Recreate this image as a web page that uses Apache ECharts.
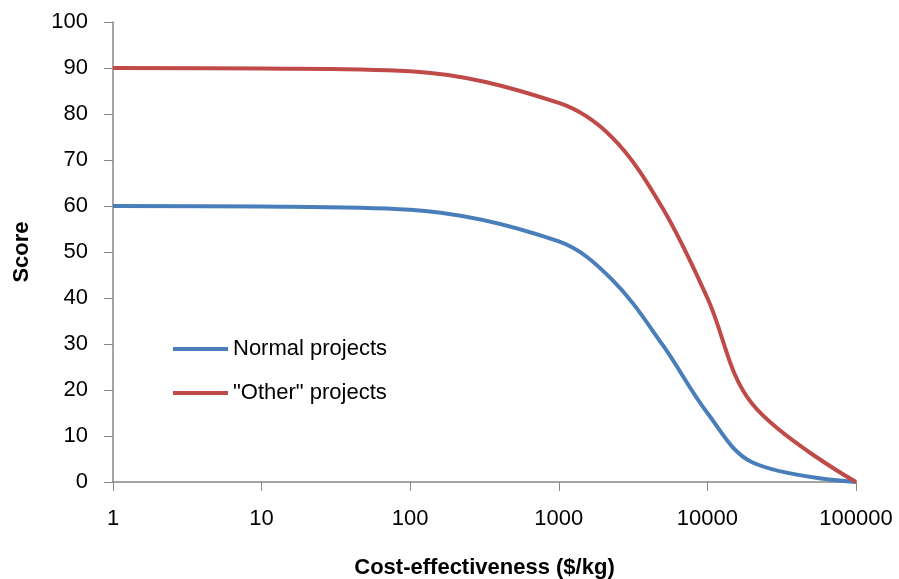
<!DOCTYPE html>
<html><head><meta charset="utf-8">
<script src="https://cdn.jsdelivr.net/npm/echarts@6/dist/echarts.min.js"></script>
<style>html,body{margin:0;padding:0;background:#fff}#c{width:899px;height:579px}</style>
</head><body><div id="c"></div>
<script>
const seriesNames = ['Normal projects', '"Other" projects'];
const costX = [1, 10, 100, 1000, 2300, 5000, 10000, 20000, 100000];
const normalY = [60, 59.9, 59.2, 52.3, 43.9, 29.8, 15, 4.3, 0];
const otherY = [90, 89.9, 89.3, 82.4, 74.8, 59.5, 40, 17, 0];
const yTicks = [0, 100, 10];
const font = 'Liberation Sans';
const chart = echarts.init(document.getElementById('c'));
const pair = (xs, ys) => xs.map((x, i) => [x, ys[i]]);
chart.setOption({
  animation: false,
  grid: {left: 113, right: 43, top: 22, bottom: 97, containLabel: false, outerBoundsMode: 'none'},
  legend: {
    left: 173, top: 338, padding: 0, orient: 'vertical', itemWidth: 55, itemHeight: 4, itemGap: 22,
    icon: 'rect',
    textStyle: {fontFamily: font, fontSize: 22, color: '#000'},
    data: seriesNames
  },
  xAxis: {
    type: 'log', logBase: 10, min: 1, max: 100000,
    name: 'Cost-effectiveness ($/kg)', nameLocation: 'middle', nameGap: 75,
    nameTextStyle: {fontFamily: font, fontSize: 22, fontWeight: 'bold', color: '#000'},
    axisLine: {lineStyle: {color: '#868686', width: 1.5}},
    axisTick: {show: true, length: 9, lineStyle: {color: '#868686'}},
    minorTick: {show: false},
    splitLine: {show: false},
    axisLabel: {fontFamily: font, fontSize: 22, color: '#000', margin: 26, formatter: v => String(Math.round(v))}
  },
  yAxis: {
    type: 'value', min: yTicks[0], max: yTicks[1], interval: yTicks[2],
    name: 'Score', nameLocation: 'middle', nameGap: 80, nameRotate: 90,
    nameTextStyle: {fontFamily: font, fontSize: 22, fontWeight: 'bold', color: '#000'},
    axisLine: {show: true, lineStyle: {color: '#868686', width: 1.5}},
    axisTick: {show: true, length: 9, lineStyle: {color: '#868686'}},
    splitLine: {show: false},
    axisLabel: {fontFamily: font, fontSize: 22, color: '#000', margin: 25}
  },
  series: [
    {name: seriesNames[0], type: 'line', data: pair(costX, normalY), smooth: 0.35, showSymbol: false,
     lineStyle: {color: '#4a7ebb', width: 4}, itemStyle: {color: '#4a7ebb'}},
    {name: seriesNames[1], type: 'line', data: pair(costX, otherY), smooth: 0.35, showSymbol: false,
     lineStyle: {color: '#be4b48', width: 4}, itemStyle: {color: '#be4b48'}}
  ]
});
</script></body></html>
